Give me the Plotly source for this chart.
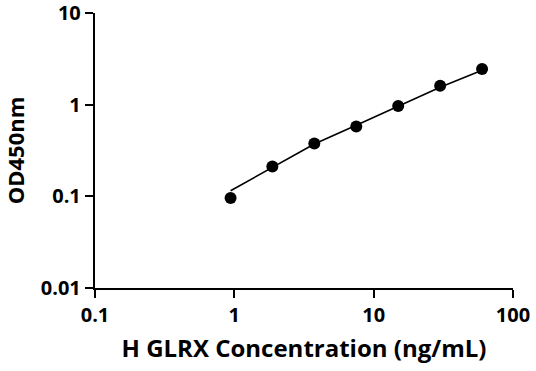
import plotly.graph_objects as go

conc = [0.94, 1.875, 3.75, 7.5, 15, 30, 60]
od = [0.096, 0.212, 0.378, 0.579, 0.968, 1.61, 2.45]
fit_od = [0.115, 0.207, 0.372, 0.595, 0.96, 1.55, 2.38]
x_ticks = [0.1, 1, 10, 100]
x_tick_labels = ["0.1", "1", "10", "100"]
y_ticks = [0.01, 0.1, 1, 10]
y_tick_labels = ["0.01", "0.1", "1", "10"]

FONT = "Open Sans"

fig = go.Figure()
fig.add_trace(go.Scatter(x=conc, y=fit_od, mode="lines",
                         line=dict(color="black", width=1.6), showlegend=False,
                         cliponaxis=False))
fig.add_trace(go.Scatter(x=conc, y=od, mode="markers",
                         marker=dict(color="black", size=12), showlegend=False,
                         cliponaxis=False))

axis_common = dict(type="log", showline=True, linecolor="black", linewidth=2.4,
                   ticks="outside", ticklen=8, tickwidth=2.4, tickcolor="black",
                   showgrid=False, zeroline=False, mirror=False, automargin=False,
                   ticklabeloverflow="allow",
                   tickfont=dict(family=FONT, size=20, color="black", weight="bold"))

fig.update_xaxes(range=[-1, 2], tickvals=x_ticks, ticktext=x_tick_labels,
                 title=dict(text="H GLRX Concentration (ng/mL)", standoff=13,
                            font=dict(family=FONT, size=24, color="black", weight="bold")),
                 **axis_common)
fig.update_yaxes(range=[-2, 1], tickvals=y_ticks, ticktext=y_tick_labels,
                 title=dict(text="OD450nm", standoff=24,
                            font=dict(family=FONT, size=22, color="black", weight="bold")),
                 **axis_common)

fig.update_layout(width=536, height=371, margin=dict(l=95, r=23, t=13, b=83),
                  plot_bgcolor="white", paper_bgcolor="white")
fig.write_html("out.html", config={"displayModeBar": False},
               post_script="document.body.style.margin='0';")
